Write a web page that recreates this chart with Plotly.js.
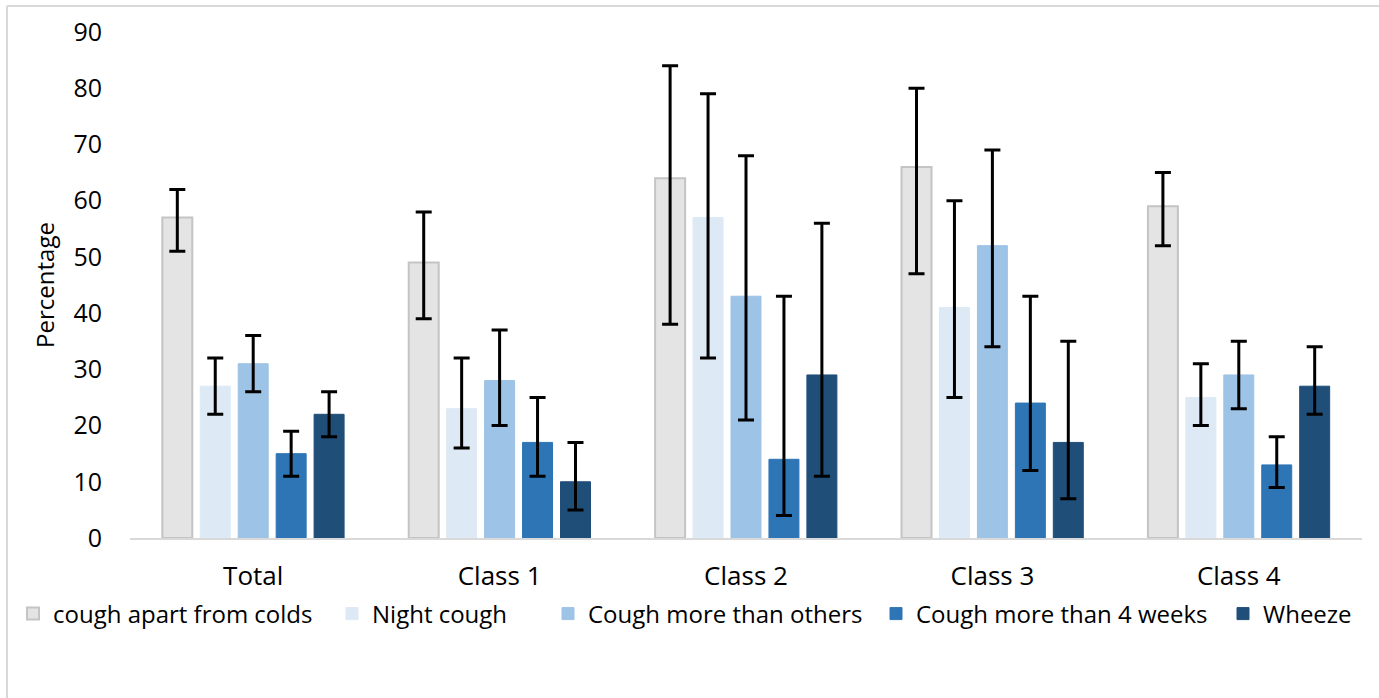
<!DOCTYPE html>
<html>
<head>
<meta charset="utf-8">
<script src="https://cdn.plot.ly/plotly-3.0.1.min.js"></script>
<style>html,body{margin:0;padding:0;background:#fff;}#chart{width:1379px;height:698px;}</style>
</head>
<body>
<div id="chart"></div>
<script>
const categories = ["Total", "Class 1", "Class 2", "Class 3", "Class 4"];
const seriesNames = ["cough apart from colds", "Night cough", "Cough more than others", "Cough more than 4 weeks", "Wheeze"];
const coughApart = [57, 49, 64, 66, 59];
const coughApartLow = [51, 39, 38, 47, 52];
const coughApartHigh = [62, 58, 84, 80, 65];
const nightCough = [27, 23, 57, 41, 25];
const nightCoughLow = [22, 16, 32, 25, 20];
const nightCoughHigh = [32, 32, 79, 60, 31];
const coughMore = [31, 28, 43, 52, 29];
const coughMoreLow = [26, 20, 21, 34, 23];
const coughMoreHigh = [36, 37, 68, 69, 35];
const cough4w = [15, 17, 14, 24, 13];
const cough4wLow = [11, 11, 4, 12, 9];
const cough4wHigh = [19, 25, 43, 43, 18];
const wheeze = [22, 10, 29, 17, 27];
const wheezeLow = [18, 5, 11, 7, 22];
const wheezeHigh = [26, 17, 56, 35, 34];
const yTicks = [0, 10, 20, 30, 40, 50, 60, 70, 80, 90];

const values = [coughApart, nightCough, coughMore, cough4w, wheeze];
const lows = [coughApartLow, nightCoughLow, coughMoreLow, cough4wLow, wheezeLow];
const highs = [coughApartHigh, nightCoughHigh, coughMoreHigh, cough4wHigh, wheezeHigh];
const fills = ["#e4e4e4", "#dde9f5", "#9dc3e6", "#2e75b6", "#1f4e79"];
const lines = ["#c4c4c4", "#dde9f5", "#9dc3e6", "#2e75b6", "#1f4e79"];
const legendIds = ["legend", "legend2", "legend3", "legend4", "legend5"];
const legendTextStart = [55, 374, 590, 918, 1265];

const traces = values.map((v, i) => ({
  type: "bar",
  name: seriesNames[i],
  legend: legendIds[i],
  x: categories,
  y: v,
  marker: {color: fills[i], line: {color: lines[i], width: i === 0 ? 2 : 1}},
  error_y: {
    type: "data", symmetric: false,
    array: highs[i].map((h, k) => h - v[k]),
    arrayminus: v.map((val, k) => val - lows[i][k]),
    color: "#000", thickness: 3, width: 8
  },
  hoverinfo: "x+y"
}));

const L = 130, R = 17, T = 32, B = 160;
const PW = 1379 - L - R, PH = 698 - T - B;
const font = "Open Sans, Noto Sans, sans-serif";
const layout = {
  width: 1379, height: 698,
  margin: {l: L, r: R, t: T, b: B},
  paper_bgcolor: "#fff", plot_bgcolor: "#fff",
  barmode: "group", bargap: 0.23, bargroupgap: 0.21,
  font: {family: font, color: "#000", size: 24},
  showlegend: true,
  xaxis: {type: "category", showline: true, linecolor: "#d9d9d9", linewidth: 2, ticks: "", ticklabelstandoff: 14, tickfont: {size: 26}, showgrid: false, zeroline: false},
  yaxis: {range: [0, 90], tickvals: yTicks, ticktext: yTicks.map(String), showgrid: false, zeroline: false, showline: false, ticks: "", ticklabelstandoff: 27, tickfont: {size: 25},
          title: {text: "Percentage", font: {size: 24}, standoff: 12}},
  shapes: [
    {type: "line", xref: "paper", yref: "paper", x0: (7 - L)/PW, x1: (1379 - L)/PW, y0: (698 - B - 6)/PH, y1: (698 - B - 6)/PH, line: {color: "#d9d9d9", width: 2}},
    {type: "line", xref: "paper", yref: "paper", x0: (7 - L)/PW, x1: (7 - L)/PW, y0: (698 - B - 6)/PH, y1: (698 - B - 698)/PH, line: {color: "#d9d9d9", width: 2}}
  ]
};
legendIds.forEach((id, i) => {
  layout[id] = {orientation: "h", xref: "container", x: (legendTextStart[i] - 42) / 1379, xanchor: "left",
    yref: "container", y: 1 - 614/698, yanchor: "middle", font: {size: 24, family: font},
    itemwidth: 30, bgcolor: "rgba(0,0,0,0)", borderwidth: 0};
});
Plotly.newPlot("chart", traces, layout, {displayModeBar: false, staticPlot: true});
</script>
</body>
</html>
